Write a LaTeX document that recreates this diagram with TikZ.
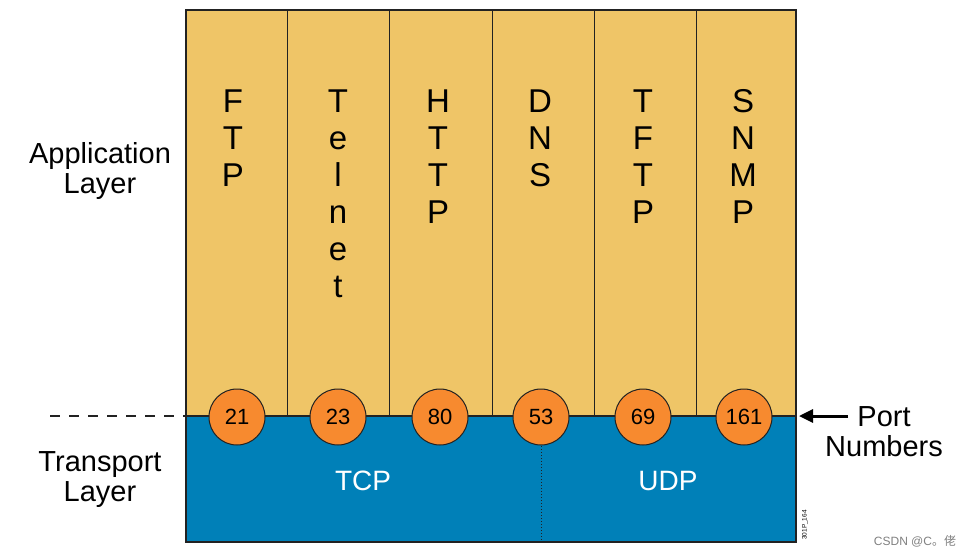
\documentclass[tikz,border=0pt]{standalone}
\usepackage{fontspec}
\setmainfont{Liberation Sans}
\newfontfamily\cjk{Noto Sans CJK SC}
\usetikzlibrary{arrows.meta}
\definecolor{appyel}{HTML}{EFC567}
\definecolor{tblue}{HTML}{0080B8}
\definecolor{porg}{HTML}{F78A2F}
\definecolor{edge}{HTML}{222222}
\tikzset{
  letter/.style={anchor=base, inner sep=0pt, font=\fontsize{33}{37}\selectfont},
  side/.style={align=center, inner sep=0pt, font=\fontsize{29}{30}\selectfont},
  portc/.style={circle, draw=edge, line width=1pt, fill=porg, minimum size=56pt, inner sep=0pt, font=\fontsize{22}{22}\selectfont},
  proto/.style={text=white, inner sep=0pt, font=\fontsize{28}{28}\selectfont},
}
\begin{document}
\begin{tikzpicture}[x=1pt,y=-1pt]
\useasboundingbox (0,0) rectangle (974,557);
% layers
\fill[appyel] (186,10) rectangle (796,416);
\fill[tblue] (186,416) rectangle (796,542);
\foreach \x in {287,389,492,594,696} \draw[edge, line width=1pt] (\x,10) -- (\x,416);
\draw[edge, line width=1.2pt] (186,10) rectangle (796,542);
\draw[edge, line width=1.2pt] (186,416) -- (796,416);
\draw[edge, line width=1pt, dotted] (541,416) -- (541,542);
\draw[edge, line width=1.2pt, dash pattern=on 10pt off 9pt] (50,416) -- (186,416);
% letters
\foreach \c/\word in {233/{F,T,P},338/{T,e,l,n,e,t},438/{H,T,T,P},540/{D,N,S},643/{T,F,T,P},743/{S,N,M,P}}{
  \foreach \l [count=\i from 0] in \word {
    \node[letter] (l-\c-\i) at (\c,{112+37*\i}) {\l};
  }
}
% side labels
\node[side] (app) at (100,171) {Application\\Layer};
\node[side] (trans) at (100,480) {Transport\\Layer};
\node[side] (port) at (884,432) {Port\\Numbers};
\coordinate (arrowtip) at (799,416);
\draw[-{Triangle[length=14pt,width=13pt]}, line width=3pt] (848,416) -- (arrowtip);
% ports
\node[portc] (p21) at (237,417) {21};
\node[portc] (p23) at (338,417) {23};
\node[portc] (p80) at (440,417) {80};
\node[portc] (p53) at (541,417) {53};
\node[portc] (p69) at (643,417) {69};
\node[portc] (p161) at (744,417) {161};
% protocols
\node[proto] (tcp) at (363,481) {TCP};
\node[proto] (udp) at (668,481) {UDP};
% small texts
\node[rotate=90, inner sep=0pt, font=\fontsize{6.5}{6.5}\selectfont] (code) at (805,525) {301P\_164};
\node[inner sep=0pt, text=gray, font=\fontsize{12}{12}\selectfont] (wm) at (915,541) {CSDN @C{\cjk 。佬}};
\end{tikzpicture}
\end{document}
